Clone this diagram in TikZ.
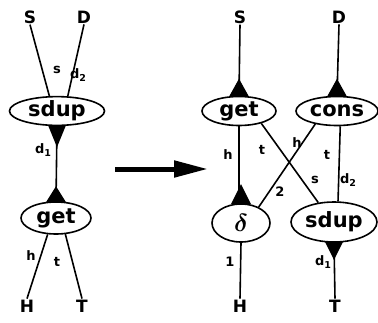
\documentclass[tikz,border=0pt]{standalone}
\usepackage{fontspec}
\setmainfont{DejaVu Sans}
\usetikzlibrary{shapes.geometric,calc,arrows.meta}
\newcommand\dsub[1]{d\raisebox{-2.5pt}{\fontsize{9.5}{9.5}\selectfont #1}}
\begin{document}
\begin{tikzpicture}[x=1pt,y=-1pt,
  el/.style={draw,ellipse,line width=1.6pt,inner sep=0pt,
    font=\fontsize{21}{21}\selectfont\bfseries},
  term/.style={font=\fontsize{17}{17}\selectfont\bfseries,inner sep=1pt},
  lab/.style={font=\fontsize{13}{13}\selectfont\bfseries,inner sep=0pt},
  wire/.style={line width=1.6pt},
  tri/.style={fill=black}]
\useasboundingbox (0,0) rectangle (378,322);

% ---------- left ----------
\node[term] (S1) at (30,17) {S};
\node[term] (D1) at (84,17) {D};
\node[el,minimum width=95pt,minimum height=28pt] (sdupL) at (57,111) {sdup};
\node[el,minimum width=70pt,minimum height=32pt] (getL) at (56,218) {get};
\node[term] (H1) at (27,306) {H};
\node[term] (T1) at (82,306) {T};

\draw[wire] (S1.south) -- (sdupL.117);
\draw[wire] (D1.south) -- (sdupL.54);
\draw[wire] (sdupL.south) -- (getL.north);
\draw[wire] (getL.243) -- (H1.north);
\draw[wire] (getL.300) -- (T1.north);
\fill[tri] ($(sdupL.south)+(-9,-1)$) -- ($(sdupL.south)+(9,-1)$) -- ($(sdupL.south)+(0,21)$) -- cycle;
\fill[tri] ($(getL.north)+(-10,1)$) -- ($(getL.north)+(10,1)$) -- ($(getL.north)+(0,-15)$) -- cycle;

\node[lab] (ls1) at (57,70) {s};
\node[lab] (ld1) at (78,75) {\dsub{2}};
\node[lab] (ldd1) at (43,150) {\dsub{1}};
\node[lab] (lh1) at (31,256) {h};
\node[lab] (lt1) at (57,262) {t};

% ---------- arrow ----------
\coordinate (a1) at (115,169);
\coordinate (a2) at (208,169);
\draw[line width=5pt,-{Triangle[length=34pt,width=16pt]}] (a1) -- (a2);

% ---------- right ----------
\node[term] (S2) at (240,17) {S};
\node[term] (D2) at (339,17) {D};
\node[el,minimum width=74pt,minimum height=29pt] (getR) at (239,111) {get};
\node[el,minimum width=82pt,minimum height=29pt] (consR) at (337,111) {cons};
\node[el,minimum width=58pt,minimum height=38pt,font=\fontsize{30}{30}\selectfont\boldmath] (delta) at (241,223) {$\delta$};
\node[el,minimum width=86pt,minimum height=40pt] (sdupR) at (334,222) {sdup};
\node[term] (H2) at (240,306) {H};
\node[term] (T2) at (335,306) {T};

\draw[wire] (S2.south) -- (getR.north);
\draw[wire] (D2.south) -- (consR.north);
\draw[wire] (getR.south) -- (getR.south |- delta.north);
\draw[wire] (getR.331) -- (sdupR.129);
\draw[wire] (consR.211) -- (delta.42);
\draw[wire] (consR.282) -- (sdupR.79);
\draw[wire] (delta.south) -- (H2.north);
\draw[wire] (sdupR.south) -- (T2.north);
\fill[tri] ($(getR.north)+(-10,1)$) -- ($(getR.north)+(10,1)$) -- ($(getR.north)+(0,-17)$) -- cycle;
\fill[tri] ($(consR.north)+(-10,1)$) -- ($(consR.north)+(10,1)$) -- ($(consR.north)+(0,-17)$) -- cycle;
\fill[tri] ($(delta.north)+(-10,1)$) -- ($(delta.north)+(10,1)$) -- ($(delta.north)+(0,-19)$) -- cycle;
\fill[tri] ($(sdupR.south)+(-9,-1)$) -- ($(sdupR.south)+(9,-1)$) -- ($(sdupR.south)+(0,17)$) -- cycle;

\node[lab] (lh2) at (228,155) {h};
\node[lab] (lt2) at (262,150) {t};
\node[lab] (lh3) at (297,143) {h};
\node[lab] (lt3) at (327,155) {t};
\node[lab] (l22) at (280,192) {2};
\node[lab] (ls2) at (315,180) {s};
\node[lab] (ld2) at (348,180) {\dsub{2}};
\node[lab] (l12) at (230,262) {1};
\node[lab] (ldd2) at (323,262) {\dsub{1}};
\end{tikzpicture}
\end{document}
